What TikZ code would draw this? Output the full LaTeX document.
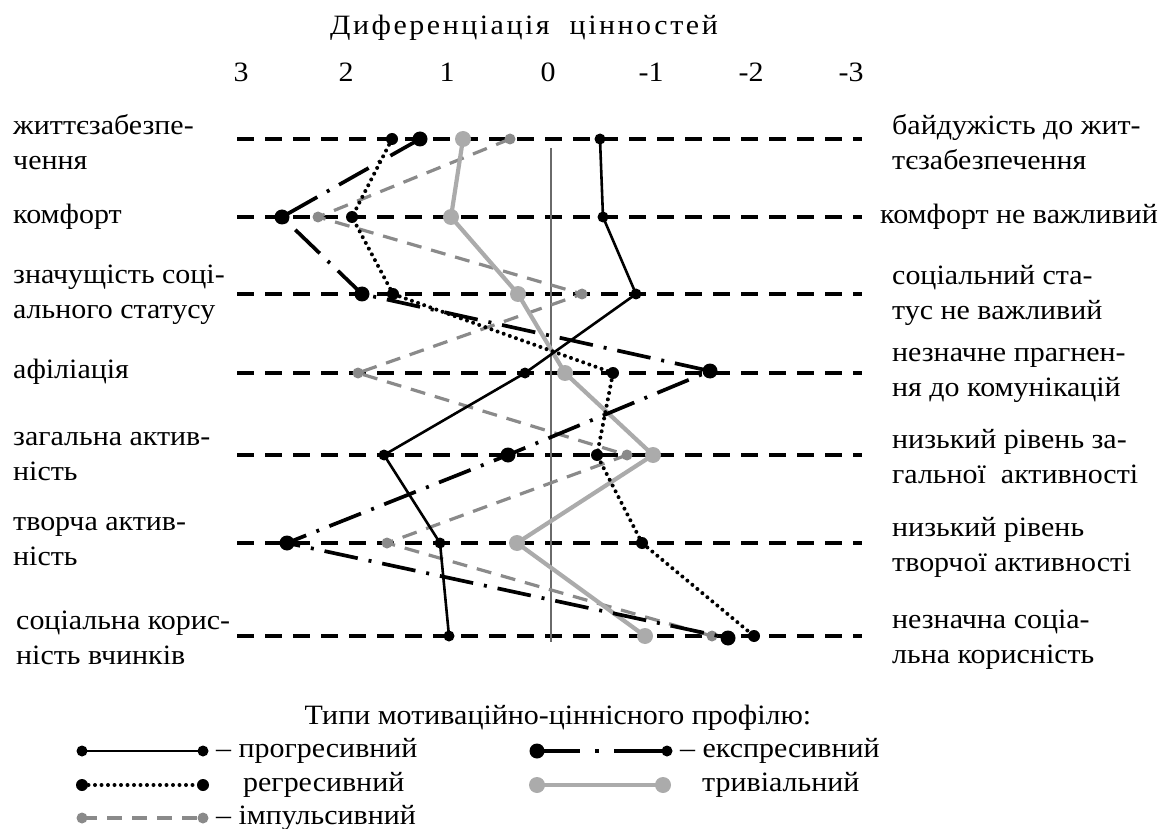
\documentclass[tikz,border=0pt]{standalone}
\usepackage{fontspec}
\setmainfont{Liberation Serif}[FakeStretch=1.07]
\definecolor{impgray}{HTML}{8A8A8A}
\definecolor{trivgray}{HTML}{ABABAB}
\definecolor{zerogray}{HTML}{6A6A6A}
\begin{document}
\begin{tikzpicture}[x=1pt,y=-1pt,
  every node/.style={inner sep=0pt, font=\fontsize{28}{35}\selectfont},
  lab/.style={anchor=west, align=left},
  gridline/.style={line width=3.7pt, dash pattern=on 17pt off 11pt},
  zeroline/.style={line width=1.2pt, zerogray},
  progl/.style={line width=2.6pt, black},
  regl/.style={line width=4pt, black, line cap=round, dash pattern=on 0pt off 6.5pt},
  impl/.style={line width=3.2pt, impgray, dash pattern=on 15pt off 10pt},
  expl/.style={line width=3.7pt, black, dash pattern=on 34pt off 11pt on 3pt off 11pt},
  trivl/.style={line width=4.2pt, trivgray},
  progdot/.style={fill=black},
  regdot/.style={fill=black},
  impdot/.style={fill=impgray},
  expdot/.style={fill=black},
  trivdot/.style={fill=trivgray}]
\useasboundingbox (0,0) rectangle (1160,829);

% title and axis
\node (title) at (524,28) {\addfontfeature{LetterSpace=9}Диференціація\ \ цінностей};
\node (a3) at (241,72) {3};
\node (a2) at (346,72) {2};
\node (a1) at (447,72) {1};
\node (a0) at (548,72) {0};
\node (am1) at (651,72) {-1};
\node (am2) at (751,72) {-2};
\node (am3) at (851,72) {-3};

% row grid lines
\foreach \i/\y in {1/139,2/217,3/294,4/373,5/455,6/543,7/636}{
  \coordinate (gl\i) at (237,\y);
  \coordinate (gr\i) at (862,\y);
  \draw[gridline] (gl\i) -- (gr\i);
}
\coordinate (z0) at (551,148);
\coordinate (z1) at (551,642);
\draw[zeroline] (z0) -- (z1);

% data coordinates
\path (600,139) coordinate (pr1) (603,217) coordinate (pr2) (636,294) coordinate (pr3)
      (525,373) coordinate (pr4) (384,455) coordinate (pr5) (440,543) coordinate (pr6)
      (449,636) coordinate (pr7);
\path (420,139) coordinate (ex1) (282,217) coordinate (ex2) (362,294) coordinate (ex3)
      (710,371) coordinate (ex4) (508,455) coordinate (ex5) (287,543) coordinate (ex6)
      (728,638) coordinate (ex7);
\path (392,139) coordinate (rg1) (352,217) coordinate (rg2) (393,294) coordinate (rg3)
      (613,373) coordinate (rg4) (597,455) coordinate (rg5) (642,543) coordinate (rg6)
      (754,636) coordinate (rg7);
\path (510,139) coordinate (im1) (318,217) coordinate (im2) (582,294) coordinate (im3)
      (358,373) coordinate (im4) (627,455) coordinate (im5) (387,543) coordinate (im6)
      (712,636) coordinate (im7);
\path (463,139) coordinate (tr1) (451,217) coordinate (tr2) (518,294) coordinate (tr3)
      (565,373) coordinate (tr4) (653,455) coordinate (tr5) (517,543) coordinate (tr6)
      (645,636) coordinate (tr7);

% series
\draw[impl] (im1) -- (im2) -- (im3) -- (im4) -- (im5) -- (im6) -- (im7);
\foreach \i in {1,...,7} \fill[impdot] (im\i) circle (5.5pt);
\draw[trivl] (tr1) -- (tr2) -- (tr3) -- (tr4) -- (tr5) -- (tr6) -- (tr7);
\foreach \i in {1,...,7} \fill[trivdot] (tr\i) circle (8pt);
\draw[progl] (pr1) -- (pr2) -- (pr3) -- (pr4) -- (pr5) -- (pr6) -- (pr7);
\foreach \i in {1,...,7} \fill[progdot] (pr\i) circle (5.5pt);
\draw[regl] (rg1) -- (rg2) -- (rg3) -- (rg4) -- (rg5) -- (rg6) -- (rg7);
\foreach \i in {1,...,7} \fill[regdot] (rg\i) circle (6pt);
\draw[expl] (ex1) -- (ex2) -- (ex3) -- (ex4) -- (ex5) -- (ex6) -- (ex7);
\foreach \i in {1,...,7} \fill[expdot] (ex\i) circle (7.5pt);

% left labels
\node[lab] (l1) at (13,142) {життєзабезпе-\\чення};
\node[lab] (l2) at (13,217) {комфорт};
\node[lab] (l3) at (13,295) {значущість соці-\\ального статусу};
\node[lab] (l4) at (13,372) {афіліація};
\node[lab] (l5) at (13,457) {загальна актив-\\ність};
\node[lab] (l6) at (13,542) {творча актив-\\ність};
\node[lab] (l7) at (16,638) {соціальна корис-\\ність вчинків};

% right labels
\node[lab] (r1) at (892,142) {байдужість до жит-\\тєзабезпечення};
\node[lab] (r2) at (880,217) {комфорт не важливий};
\node[lab] (r3) at (892,295) {соціальний ста-\\тус не важливий};
\node[lab] (r4) at (892,375) {незначне прагнен-\\ня до комунікацій};
\node[lab] (r5) at (892,457) {низький рівень за-\\гальної\ \ активності};
\node[lab] (r6) at (892,547) {низький рівень\\творчої активності};
\node[lab] (r7) at (892,640) {незначна соціа-\\льна корисність};

% legend
\node (lt) at (558,718) {Типи мотиваційно-ціннісного профілю:};
\coordinate (lp1) at (82,751); \coordinate (lp2) at (203,751);
\draw[progl] (lp1) -- (lp2);
\fill[progdot] (lp1) circle (5.5pt); \fill[progdot] (lp2) circle (5.5pt);
\node[lab] (ltp) at (216,751) {– прогресивний};

\coordinate (lr1) at (82,785); \coordinate (lr2) at (203,785);
\draw[regl] (lr1) -- (lr2);
\fill[regdot] (lr1) circle (6pt); \fill[regdot] (lr2) circle (6pt);
\node[lab] (ltr) at (243,785) {регресивний};

\coordinate (li1) at (82,818); \coordinate (li2) at (203,818);
\draw[impl] (li1) -- (li2);
\fill[impdot] (li1) circle (5.5pt); \fill[impdot] (li2) circle (5.5pt);
\node[lab] (lti) at (216,818) {– імпульсивний};

\coordinate (le1) at (537,751); \coordinate (le2) at (667,751);
\draw[expl, dash pattern=on 43pt off 15pt on 4pt off 15pt on 60pt] (le1) -- (le2);
\fill[expdot] (le1) circle (7.5pt); \fill[expdot] (le2) circle (5.5pt);
\node[lab] (lte) at (680,751) {– експресивний};

\coordinate (lv1) at (537,785); \coordinate (lv2) at (663,785);
\draw[trivl] (lv1) -- (lv2);
\fill[trivdot] (lv1) circle (8pt); \fill[trivdot] (lv2) circle (8pt);
\node[lab] (ltv) at (702,785) {тривіальний};
\end{tikzpicture}
\end{document}
